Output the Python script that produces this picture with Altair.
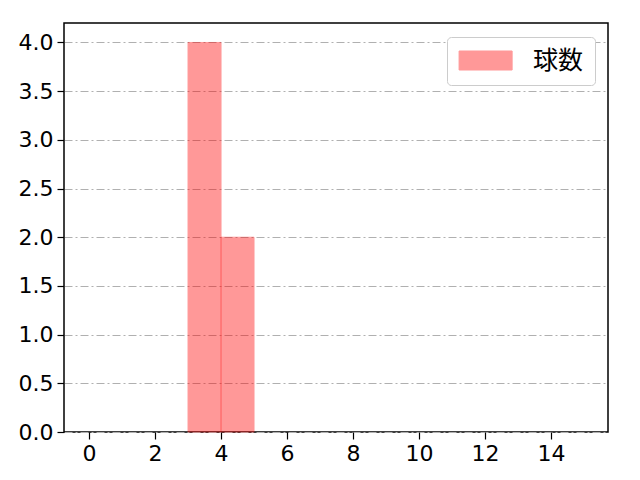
import altair as alt
import pandas as pd

bin_start = [3, 4]
bin_end = [4, 5]
counts = [4, 2]
series = ["球数", "球数"]

x_ticks = [0, 2, 4, 6, 8, 10, 12, 14]
y_ticks = [0.0, 0.5, 1.0, 1.5, 2.0, 2.5, 3.0, 3.5, 4.0]

df = pd.DataFrame({"start": bin_start, "end": bin_end, "count": counts, "series": series})

FONT = "DejaVu Sans"
CJK_FONT = "Noto Sans CJK JP"

chart = (
    alt.Chart(df)
    .mark_rect(opacity=0.4, strokeWidth=1)
    .encode(
        x=alt.X(
            "start:Q",
            title=None,
            scale=alt.Scale(domain=[-0.76, 15.73], nice=False, zero=False),
            axis=alt.Axis(values=x_ticks, format="d", grid=False),
        ),
        x2="end:Q",
        y=alt.Y(
            "count:Q",
            title=None,
            scale=alt.Scale(domain=[0, 4.2], nice=False),
            axis=alt.Axis(
                values=y_ticks,
                format=".1f",
                grid=True,
                gridColor="#b0b0b0",
                gridDash=[8, 3, 2, 3],
                gridWidth=1,
            ),
        ),
        y2=alt.datum(0),
        color=alt.Color(
            "series:N",
            title=None,
            scale=alt.Scale(range=["#ff0000"]),
            legend=alt.Legend(
                orient="none",
                legendX=383,
                legendY=14,
                # wide swatch like matplotlib's patch handle
                symbolType="M-1.2,-1L4.38,-1L4.38,1L-1.2,1Z",
                symbolSize=361,
                symbolOpacity=0.4,
                symbolStrokeWidth=1,
                labelFont=CJK_FONT,
                labelFontSize=25,
                labelOffset=50,
                padding=11,
                strokeColor="#cccccc",
                fillColor="white",
                cornerRadius=4,
            ),
        ),
        stroke=alt.Color("series:N", scale=alt.Scale(range=["#ff0000"]), legend=None),
    )
    .properties(
        width=544,
        height=409,
        autosize=alt.AutoSizeParams(type="none"),
        padding={"left": 56, "top": 15, "right": 24, "bottom": 48},
    )
    .configure_axis(
        labelFont=FONT,
        labelFontSize=22,
        labelColor="black",
        tickColor="black",
        tickSize=7,
        tickWidth=1.2,
        domain=False,
        labelPadding=4,
    )
    .configure_view(stroke="black", strokeWidth=1.5)
)

chart.save("out.html", embed_options={"renderer": "svg", "actions": False})
